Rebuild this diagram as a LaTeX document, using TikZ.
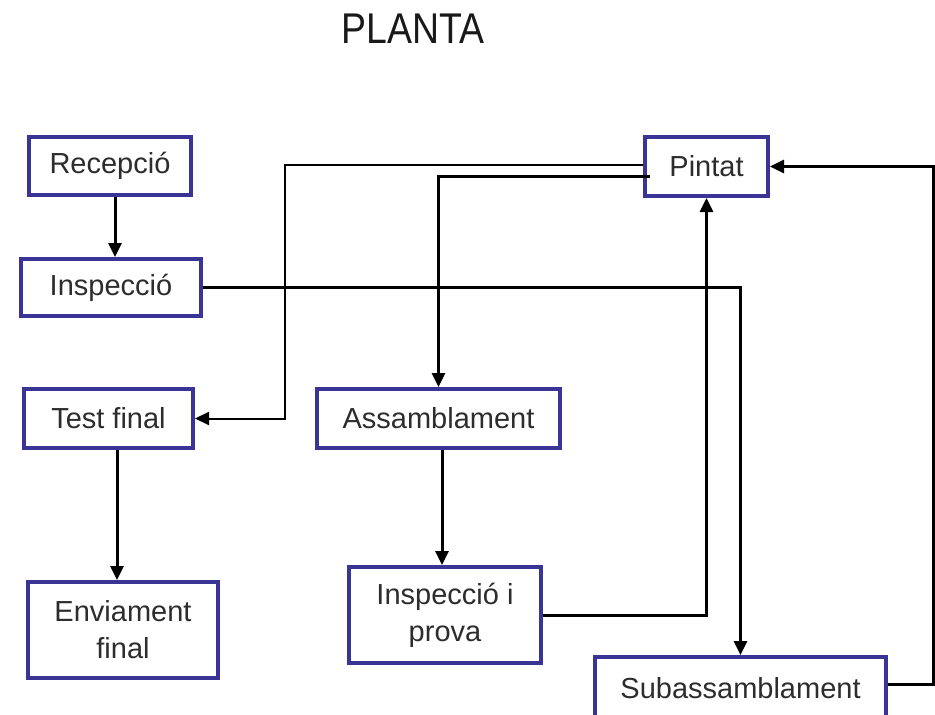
\documentclass[tikz,border=0pt]{standalone}
\usepackage{graphicx}
\usepackage{fontspec}
\setmainfont{Liberation Sans}
\usetikzlibrary{arrows.meta}
\definecolor{boxblue}{RGB}{58,52,150}
\definecolor{txt}{RGB}{45,45,45}
\begin{document}
\begin{tikzpicture}[x=1pt,y=-1pt,
  stage/.style={draw=boxblue,line width=4pt,fill=white,inner sep=0pt,
    text=txt,font=\fontsize{29}{37}\selectfont,align=center},
  flow/.style={line width=3pt,-{Triangle[length=14pt,width=13pt]}},
  thinflow/.style={line width=2pt,-{Triangle[length=14pt,width=13pt]}}]
\fill[white] (0,0) rectangle (935,715);
\useasboundingbox (0,0) rectangle (935,715);

% title
\node[font=\fontsize{43}{50}\selectfont,text=black!90,inner sep=0pt] (title) at (413,29) {\scalebox{0.87}[1]{PLANTA}};

% stages
\node[stage,minimum width=162pt,minimum height=58pt] (rec)  at (110,166)   {Recepció};
\node[stage,minimum width=180pt,minimum height=57pt] (insp) at (111,287.5) {Inspecció};
\node[stage,minimum width=169pt,minimum height=59pt] (test) at (108.5,418.5) {Test final};
\node[stage,minimum width=190pt,minimum height=96pt] (env)  at (123,630)   {Enviament\\final};
\node[stage,minimum width=123pt,minimum height=59pt] (pint) at (706.5,166.5) {Pintat};
\node[stage,minimum width=243pt,minimum height=59pt] (ass)  at (438.5,418.5) {Assamblament};
\node[stage,minimum width=192pt,minimum height=96pt] (iip)  at (445,615)   {Inspecció i\\prova};
\node[stage,minimum width=291pt,minimum height=62pt] (sub)  at (740.5,688) {Subassamblament};

% routing points
\coordinate (xa) at (115,0);
\coordinate (xe) at (442,0);
\coordinate (xh) at (117,0);
\coordinate (xg) at (933,0);
\coordinate (yg) at (0,684);
\coordinate (tb) at (285,165);
\coordinate (d0) at (650,176);

% connectors
\draw[flow] (rec.south -| xa) -- (insp.north -| xa);
\draw[flow] (insp.east) -| (sub.north);
\draw[thinflow] (pint.west |- tb) -- (tb) |- (test.east);
\draw[flow] (d0) -| (ass.north);
\draw[flow] (ass.south -| xe) -- (iip.north -| xe);
\draw[flow] (iip.east) -| (pint.south);
\draw[flow] (sub.east |- yg) -| (xg |- pint.east) -- (pint.east);
\draw[flow] (test.south -| xh) -- (env.north -| xh);
\end{tikzpicture}
\end{document}
